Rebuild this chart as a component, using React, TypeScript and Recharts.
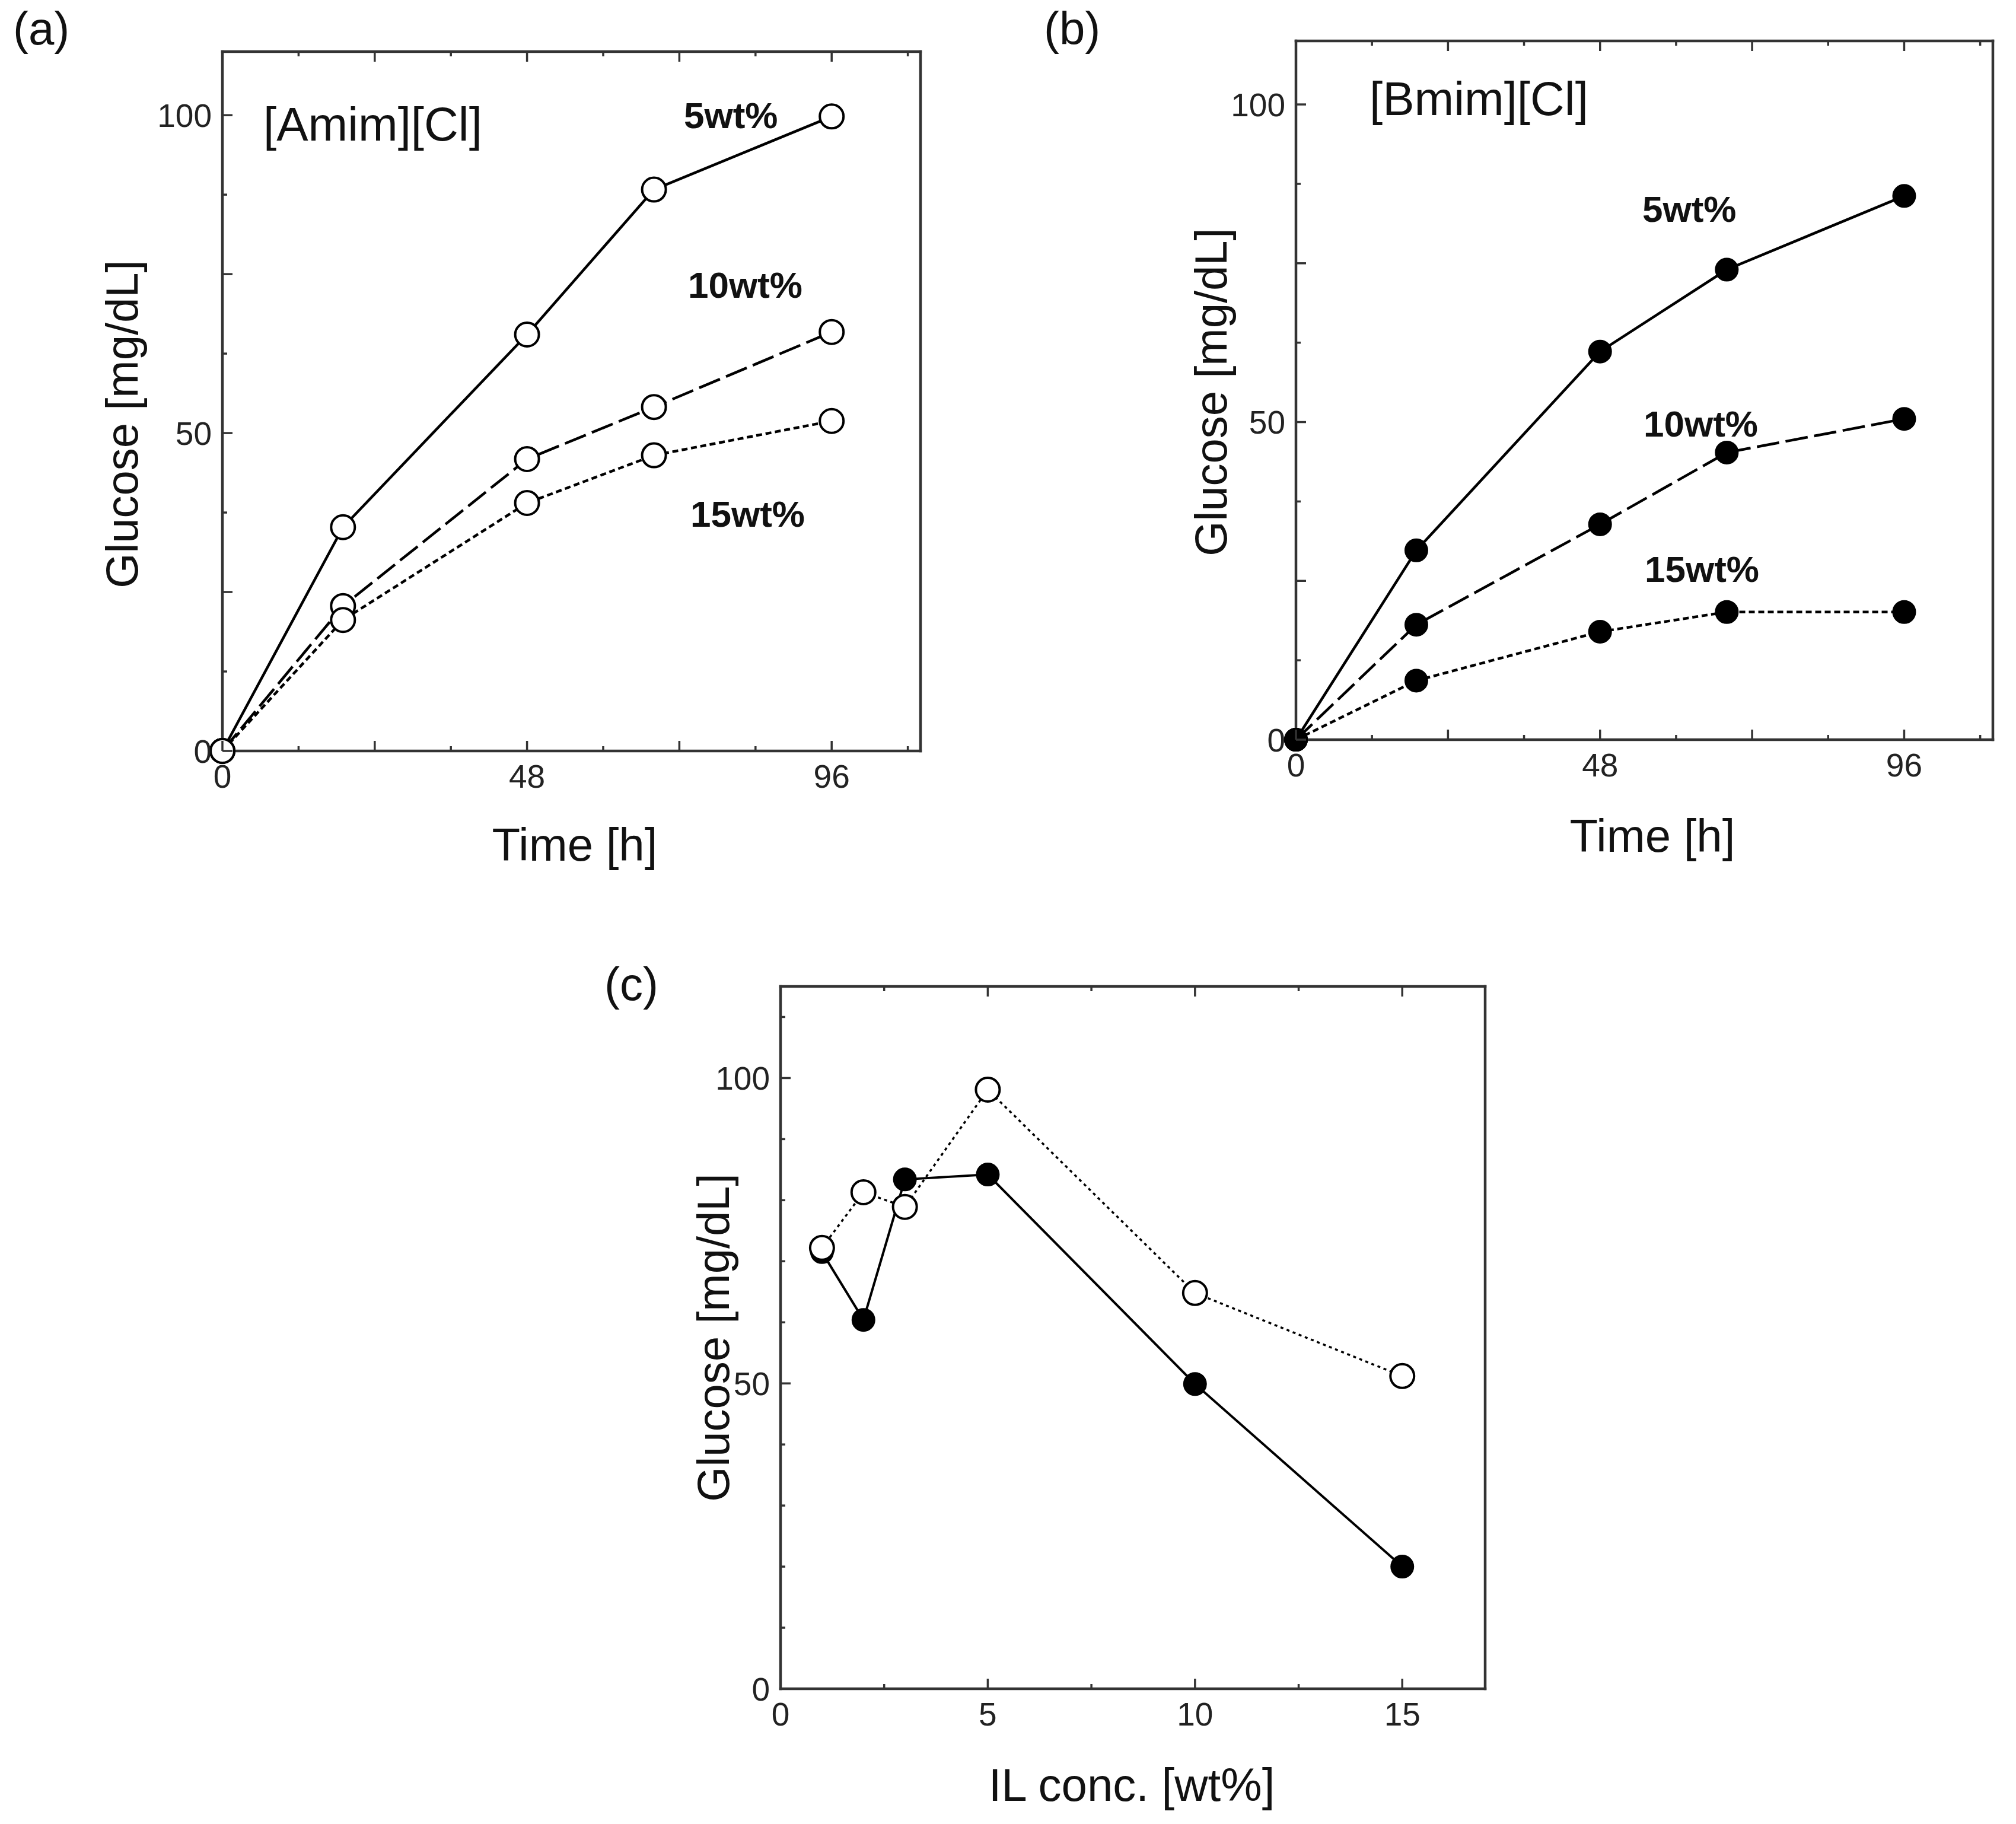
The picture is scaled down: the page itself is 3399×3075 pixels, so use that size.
import React from "react";
import { LineChart, Line, XAxis, YAxis } from "recharts";

// ---- data ----
const timeH = [0, 19, 48, 68, 96];

const amim5 = [0, 35.2, 65.5, 88.3, 99.8];
const amim10 = [0, 22.8, 45.9, 54.1, 65.9];
const amim15 = [0, 20.6, 39.0, 46.5, 51.9];

const bmim5 = [0, 29.8, 61.1, 74.0, 85.6];
const bmim10 = [0, 18.1, 33.9, 45.2, 50.5];
const bmim15 = [0, 9.3, 17.0, 20.1, 20.1];

const ilConc = [1, 2, 3, 5, 10, 15];
const concBmim = [71.5, 60.4, 83.4, 84.2, 49.9, 20.0];
const concAmim = [72.2, 81.3, 78.9, 98.1, 64.8, 51.2];

// ---- ticks ----
const timeTicks = [0, 12, 24, 36, 48, 60, 72, 84, 96, 108];
const timeLabels = [0, 48, 96];
const glucoseTicksAB = [0, 12.5, 25, 37.5, 50, 62.5, 75, 87.5, 100];
const glucoseTicksC = [0, 10, 20, 30, 40, 50, 60, 70, 80, 90, 100, 110];
const glucoseLabels = [0, 50, 100];
const concTicks = [0, 2.5, 5, 7.5, 10, 12.5, 15];
const concLabels = [0, 5, 10, 15];

const FONT = "'Liberation Sans', Arial, Helvetica, sans-serif";
const AXIS = "#333";
const TICK_FONT = 55;

type Side = "bottom" | "top" | "left" | "right";

// inward ticks, long on major steps, labels only where listed
function tickRenderer(side: Side, majorStep: number, labels: number[]) {
  return (props: any) => {
    const { x, y, payload } = props;
    const v = Number(payload.value);
    const r = v / majorStep;
    const isMajor = Math.abs(r - Math.round(r)) < 1e-6;
    const len = isMajor ? 17 : 8;
    const show = labels.includes(v);
    const ls = { stroke: AXIS, strokeWidth: 3.5 };
    let line: React.ReactNode = null;
    let label: React.ReactNode = null;
    if (side === "bottom") {
      line = <line x1={x} y1={y} x2={x} y2={y - len} {...ls} />;
      if (show)
        label = (
          <text x={x} y={y + 22 + 0.72 * TICK_FONT} textAnchor="middle" fontSize={TICK_FONT} fontFamily={FONT} fill="#222">
            {v}
          </text>
        );
    } else if (side === "top") {
      line = <line x1={x} y1={y} x2={x} y2={y + len} {...ls} />;
    } else if (side === "left") {
      line = <line x1={x} y1={y} x2={x + len} y2={y} {...ls} />;
      if (show)
        label = (
          <text x={x - 18} y={y + 0.36 * TICK_FONT} textAnchor="end" fontSize={TICK_FONT} fontFamily={FONT} fill="#222">
            {v}
          </text>
        );
    } else {
      line = <line x1={x} y1={y} x2={x - len} y2={y} {...ls} />;
    }
    return (
      <g>
        {line}
        {label}
      </g>
    );
  };
}

type Box = { left: number; top: number; right: number; bottom: number };
type Frame = { x: number; y: number; w: number; h: number };

function marginFor(frame: Frame, box: Box) {
  return {
    left: box.left - frame.x - 1,
    top: box.top - frame.y - 1,
    right: frame.x + frame.w - box.right - 1,
    bottom: frame.y + frame.h - box.bottom - 1,
  };
}

const axisLine = { stroke: AXIS, strokeWidth: 4.5, strokeLinecap: "square" as const };

const openDot = { r: 20, fill: "#fff", stroke: "#000", strokeWidth: 4, strokeDasharray: "0" };
const filledDot = { r: 19, fill: "#000", stroke: "#000", strokeWidth: 2, strokeDasharray: "0" };

function Txt(props: {
  x: number;
  y: number;
  size: number;
  children: React.ReactNode;
  bold?: boolean;
  anchor?: "start" | "middle";
  rotate?: boolean;
}) {
  const { x, y, size, bold, anchor = "start", rotate } = props;
  let transform = anchor === "middle" ? "translate(-50%, -50%)" : "translate(0, -50%)";
  if (rotate) transform += " rotate(-90deg)";
  return (
    <div
      style={{
        position: "absolute",
        left: x,
        top: y,
        transform,
        fontFamily: FONT,
        fontSize: size,
        fontWeight: bold ? 700 : 400,
        lineHeight: 1,
        whiteSpace: "nowrap",
        color: "#111",
      }}
    >
      {props.children}
    </div>
  );
}

function TimePanel(props: {
  frame: Frame;
  box: Box;
  s5: number[];
  s10: number[];
  s15: number[];
  filled: boolean;
}) {
  const { frame, box, filled } = props;
  const data = timeH.map((t, i) => ({ t, s5: props.s5[i], s10: props.s10[i], s15: props.s15[i] }));
  const dot = filled ? filledDot : openDot;
  return (
    <div style={{ position: "absolute", left: frame.x, top: frame.y }}>
      <LineChart width={frame.w} height={frame.h} data={data} margin={marginFor(frame, box)}>
        <XAxis
          dataKey="t"
          type="number"
          domain={[0, 110]}
          ticks={timeTicks}
          interval={0}
          height={1}
          tickLine={false}
          tickSize={0}
          tickMargin={0}
          axisLine={axisLine}
          tick={tickRenderer("bottom", 24, timeLabels)}
        />
        <XAxis
          xAxisId="top"
          orientation="top"
          dataKey="t"
          type="number"
          domain={[0, 110]}
          ticks={timeTicks}
          interval={0}
          height={1}
          tickLine={false}
          tickSize={0}
          tickMargin={0}
          axisLine={axisLine}
          tick={tickRenderer("top", 24, [])}
        />
        <YAxis
          type="number"
          domain={[0, 110]}
          ticks={glucoseTicksAB}
          interval={0}
          width={1}
          tickLine={false}
          tickSize={0}
          tickMargin={0}
          axisLine={axisLine}
          tick={tickRenderer("left", 25, glucoseLabels)}
        />
        <YAxis
          yAxisId="right"
          orientation="right"
          type="number"
          domain={[0, 110]}
          ticks={glucoseTicksAB}
          interval={0}
          width={1}
          tickLine={false}
          tickSize={0}
          tickMargin={0}
          axisLine={axisLine}
          tick={tickRenderer("right", 25, [])}
        />
        <Line dataKey="s5" stroke="#000" strokeWidth={4.5} dot={dot} activeDot={false} isAnimationActive={false} />
        <Line
          dataKey="s10"
          stroke="#000"
          strokeWidth={4.5}
          strokeDasharray="38 11"
          dot={dot}
          activeDot={false}
          isAnimationActive={false}
        />
        <Line
          dataKey="s15"
          stroke="#000"
          strokeWidth={4.5}
          strokeDasharray="10 6"
          dot={dot}
          activeDot={false}
          isAnimationActive={false}
        />
      </LineChart>
    </div>
  );
}

function ConcPanel(props: { frame: Frame; box: Box }) {
  const { frame, box } = props;
  const data = ilConc.map((c, i) => ({ c, bmim: concBmim[i], amim: concAmim[i] }));
  return (
    <div style={{ position: "absolute", left: frame.x, top: frame.y }}>
      <LineChart width={frame.w} height={frame.h} data={data} margin={marginFor(frame, box)}>
        <XAxis
          dataKey="c"
          type="number"
          domain={[0, 17]}
          ticks={concTicks}
          interval={0}
          height={1}
          tickLine={false}
          tickSize={0}
          tickMargin={0}
          axisLine={axisLine}
          tick={tickRenderer("bottom", 5, concLabels)}
        />
        <XAxis
          xAxisId="top"
          orientation="top"
          dataKey="c"
          type="number"
          domain={[0, 17]}
          ticks={concTicks}
          interval={0}
          height={1}
          tickLine={false}
          tickSize={0}
          tickMargin={0}
          axisLine={axisLine}
          tick={tickRenderer("top", 5, [])}
        />
        <YAxis
          type="number"
          domain={[0, 115]}
          ticks={glucoseTicksC}
          interval={0}
          width={1}
          tickLine={false}
          tickSize={0}
          tickMargin={0}
          axisLine={axisLine}
          tick={tickRenderer("left", 50, glucoseLabels)}
        />
        <YAxis
          yAxisId="right"
          orientation="right"
          type="number"
          domain={[0, 115]}
          ticks={glucoseTicksC}
          interval={0}
          width={1}
          tickLine={false}
          tickSize={0}
          tickMargin={0}
          axisLine={axisLine}
          tick={tickRenderer("right", 50, [])}
        />
        <Line
          dataKey="bmim"
          stroke="#000"
          strokeWidth={4}
          dot={filledDot}
          activeDot={false}
          isAnimationActive={false}
        />
        <Line
          dataKey="amim"
          stroke="#000"
          strokeWidth={3.5}
          strokeDasharray="5 6"
          dot={openDot}
          activeDot={false}
          isAnimationActive={false}
        />
      </LineChart>
    </div>
  );
}

export default function App() {
  const TITLE = 76;
  const LBL = 62;
  return (
    <div style={{ position: "absolute", left: 0, top: 0, width: 3399, height: 3075, background: "#fff" }}>
      {/* (a) */}
      <TimePanel
        frame={{ x: 0, y: 0, w: 1620, h: 1360 }}
        box={{ left: 375, top: 87, right: 1552, bottom: 1266 }}
        s5={amim5}
        s10={amim10}
        s15={amim15}
        filled={false}
      />
      <Txt x={22} y={48} size={78}>(a)</Txt>
      <Txt x={444} y={210} size={80}>[Amim][Cl]</Txt>
      <Txt x={1153} y={195} size={LBL} bold>5wt%</Txt>
      <Txt x={1160} y={481} size={LBL} bold>10wt%</Txt>
      <Txt x={1164} y={867} size={LBL} bold>15wt%</Txt>
      <Txt x={206} y={715} size={TITLE} anchor="middle" rotate>Glucose [mg/dL]</Txt>
      <Txt x={969} y={1424} size={TITLE + 2} anchor="middle">Time [h]</Txt>

      {/* (b) */}
      <TimePanel
        frame={{ x: 1700, y: 0, w: 1690, h: 1360 }}
        box={{ left: 2185, top: 69, right: 3360, bottom: 1247 }}
        s5={bmim5}
        s10={bmim10}
        s15={bmim15}
        filled
      />
      <Txt x={1760} y={48} size={78}>(b)</Txt>
      <Txt x={2309} y={167} size={80}>[Bmim][Cl]</Txt>
      <Txt x={2769} y={353} size={LBL} bold>5wt%</Txt>
      <Txt x={2771} y={715} size={LBL} bold>10wt%</Txt>
      <Txt x={2773} y={960} size={LBL} bold>15wt%</Txt>
      <Txt x={2042} y={661} size={TITLE} anchor="middle" rotate>Glucose [mg/dL]</Txt>
      <Txt x={2786} y={1409} size={TITLE + 2} anchor="middle">Time [h]</Txt>

      {/* (c) */}
      <ConcPanel frame={{ x: 1100, y: 1560, w: 1480, h: 1400 }} box={{ left: 1316, top: 1663, right: 2504, bottom: 2847 }} />
      <Txt x={1019} y={1659} size={78}>(c)</Txt>
      <Txt x={1203} y={2255} size={TITLE} anchor="middle" rotate>Glucose [mg/dL]</Txt>
      <Txt x={1908} y={3009} size={TITLE + 2} anchor="middle">IL conc. [wt%]</Txt>
    </div>
  );
}
